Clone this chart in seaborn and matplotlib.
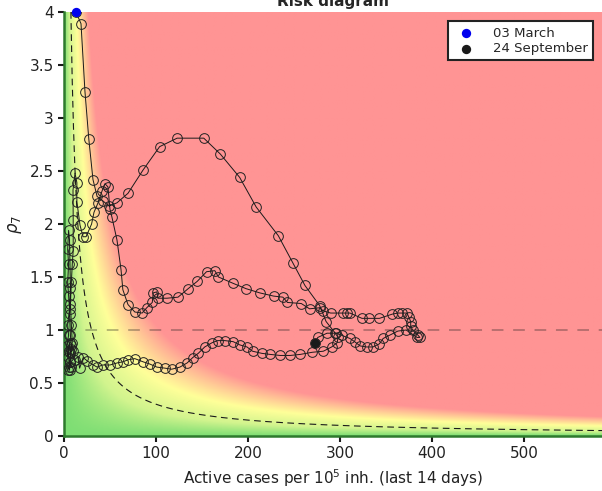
import matplotlib
matplotlib.use("Agg")  # no display
import matplotlib.pyplot as plt
from matplotlib.colors import LinearSegmentedColormap
from matplotlib.ticker import FuncFormatter
import numpy as np
import pandas as pd
import seaborn as sns

# trajectory, 03 March -> 24 September (cases per 1e5 over 14 days, rho_7)
cases = [
    # spring wave
    13, 18.5, 22.8, 27, 31.5, 36, 42, 49, 57.6, 69.6, 86, 104, 123, 152, 170,
    191, 209, 233, 249, 262, 278, 285, 295, 298, 297, 291, 282, 270, 257, 246,
    235, 224, 215, 205, 199, 191, 184, 175, 167, 161, 153, 146, 140, 134, 126,
    117, 110, 101, 93, 86, 77, 70, 64, 58, 50, 42, 36, 32, 25, 21, 17, 15, 12,
    # summer
    10, 8, 6, 5, 7, 4, 5, 6, 4, 3, 5, 4, 6, 5, 4, 5, 4, 5, 6, 7, 6, 7, 8, 6, 8,
    7, 9, 8, 7, 8, 9, 10, 10, 9.8, 12, 14, 14, 17.4, 20.7, 24, 30, 32.6, 37,
    # second wave
    41.3, 44.6, 47.8, 50, 52, 57.6, 62, 64, 69.6, 77, 85, 90, 96, 97, 101, 102,
    112, 124, 135, 145, 155, 164, 168, 184, 198, 213, 228, 238, 243, 258, 267,
    278, 282, 290, 303, 308, 311, 324, 332, 343, 357, 363, 368, 373, 375, 377,
    377, 379, 385, 387, 384, 372, 363, 354, 347, 343, 336, 329, 322, 316, 311,
    302, 296, 286, 276, 273,
]
rho = [
    4.00, 3.89, 3.25, 2.80, 2.42, 2.26, 2.22, 2.17, 2.20, 2.29, 2.51, 2.73, 2.81,
    2.81, 2.66, 2.44, 2.16, 1.89, 1.63, 1.42, 1.23, 1.08, 0.97, 0.93, 0.88, 0.84,
    0.80, 0.79, 0.77, 0.76, 0.76, 0.77, 0.78, 0.80, 0.84, 0.86, 0.89, 0.90, 0.90,
    0.88, 0.84, 0.78, 0.74, 0.69, 0.65, 0.63, 0.64, 0.65, 0.68, 0.70, 0.73, 0.72,
    0.70, 0.69, 0.67, 0.67, 0.65, 0.67, 0.71, 0.74, 0.64, 0.75, 0.72,
    0.80, 0.86, 0.62, 0.65, 0.70, 0.62, 0.80, 0.88, 0.75, 0.85, 0.95, 1.05, 1.20,
    1.32, 1.45, 1.62, 1.76, 1.94, 1.85, 1.40, 1.15, 0.95, 0.82, 0.70, 0.65, 0.78,
    0.88, 1.05, 1.25, 1.45, 1.62, 1.75, 2.04, 2.32, 2.48, 2.39, 2.21, 1.99, 1.88,
    1.88, 2.00, 2.11, 2.20,
    2.31, 2.38, 2.35, 2.14, 2.07, 1.85, 1.57, 1.38, 1.24, 1.17, 1.16, 1.21, 1.26,
    1.35, 1.36, 1.30, 1.30, 1.31, 1.39, 1.46, 1.55, 1.56, 1.50, 1.44, 1.39, 1.35,
    1.32, 1.31, 1.26, 1.25, 1.20, 1.21, 1.18, 1.16, 1.16, 1.16, 1.16, 1.11, 1.11,
    1.11, 1.15, 1.16, 1.16, 1.16, 1.12, 1.08, 1.04, 1.00, 0.95, 0.93, 0.93, 1.00,
    0.99, 0.95, 0.92, 0.87, 0.84, 0.84, 0.85, 0.89, 0.92, 0.95, 0.97, 0.97, 0.93,
    0.88,
]
start_label = "03 March"
end_label = "24 September"
x_ticks = [0, 100, 200, 300, 400, 500]
y_ticks = [0, 0.5, 1, 1.5, 2, 2.5, 3, 3.5, 4]
iso_risk = 30       # dashed curve rho * cases = 30
x_max, y_max = 585, 4

sns.set_theme(style="ticks")
plt.rcParams["font.family"] = ["DejaVu Sans"]

df = pd.DataFrame({"cases": cases, "rho": rho})

fig = plt.figure(figsize=(6.02, 4.91), dpi=100)
ax = fig.add_axes([0.1063, 0.112, 0.8937, 0.8635])

# 背景: リスク = cases * rho
gx = np.linspace(0, x_max, 600)
gy = np.linspace(0, y_max, 400)
gX, gY = np.meshgrid(gx, gy)
risk_cmap = LinearSegmentedColormap.from_list(
    "risk",
    [(0.0, "#7ede74"), (0.2, "#d2f48e"), (0.48, "#ffff99"),
     (0.72, "#ffc896"), (0.95, "#ff9494"), (1.0, "#ff9494")],
)
ax.imshow(gX * gY, extent=[0, x_max, 0, y_max], origin="lower",
          aspect="auto", cmap=risk_cmap, vmin=0, vmax=110,
          interpolation="bilinear", zorder=0)

# 参照線
ax.axhline(1, color="k", alpha=0.3, lw=1.4, dashes=(6, 5), zorder=1)
hx = np.linspace(iso_risk / y_max, x_max, 400)
sns.lineplot(x=hx, y=iso_risk / hx, color="k", lw=0.8, dashes=False,
             linestyle=(0, (6, 4)), sort=False, estimator=None, ax=ax, zorder=2)

# 軌跡
sns.lineplot(data=df, x="cases", y="rho", sort=False, estimator=None,
             color="k", lw=0.7, marker="o", markersize=7,
             markerfacecolor="none", markeredgecolor="#222222",
             markeredgewidth=0.7, ax=ax, zorder=3)

sns.scatterplot(x=[cases[0]], y=[rho[0]], color="#0000ee", s=45, linewidth=0,
                label=start_label, ax=ax, zorder=5, clip_on=False)
sns.scatterplot(x=[cases[-1]], y=[rho[-1]], color="k", s=45, linewidth=0,
                label=end_label, ax=ax, zorder=5, clip_on=False)

ax.set_xlim(0, x_max)
ax.set_ylim(0, y_max)
ax.set_xticks(x_ticks)
ax.set_yticks(y_ticks)
ax.yaxis.set_major_formatter(FuncFormatter(lambda v, _: f"{v:g}"))
ax.tick_params(direction="out", length=4, width=1.5, labelsize=11,
               colors="k", labelcolor="#222222")

for side in ["top", "right"]:
    ax.spines[side].set_visible(False)
for side in ["left", "bottom"]:
    ax.spines[side].set_color("#2d7a2d")
    ax.spines[side].set_linewidth(1.8)

ax.set_xlabel("Active cases per 10$^5$ inh. (last 14 days)", fontsize=11,
              color="#222222")
ax.set_ylabel("$\\rho_7$", fontsize=12, color="#222222")
ax.set_title("Risk diagram", fontsize=11, fontweight="bold", pad=4)

leg = ax.legend(loc="upper right", fontsize=9.5, frameon=True, fancybox=False,
                framealpha=1, edgecolor="#222222", handletextpad=1.0,
                borderpad=0.4, labelspacing=0.2, borderaxespad=0.7)
leg.get_frame().set_linewidth(1.5)

fig.savefig("out.png", dpi=100)
